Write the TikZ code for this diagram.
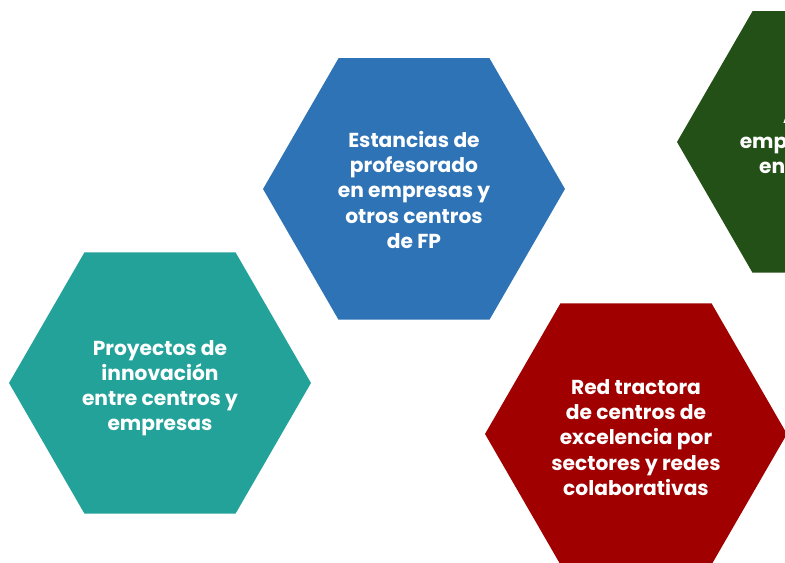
\documentclass[tikz,border=0pt]{standalone}
\usepackage{fontspec}
\setmainfont{Poppins}
\usetikzlibrary{shapes.geometric}
\definecolor{hexblue}{RGB}{46,115,181}
\definecolor{hexteal}{RGB}{35,162,154}
\definecolor{hexred}{RGB}{160,0,0}
\definecolor{hexgreen}{RGB}{34,80,22}

\begin{document}
\begin{tikzpicture}[x=0.02cm,y=-0.02cm,
    hexa/.style={regular polygon,regular polygon sides=6,minimum size=6.04cm,
      inner sep=0pt,fill=#1},
    txt/.style={text=white,align=center,
      font=\bfseries\fontsize{11.5}{14.3}\selectfont}]
  \useasboundingbox (0,0) rectangle (785,563);
  \clip (0,0) rectangle (785,563);
  \node[hexa=hexblue] (estancias) at (414,189) {};
  \node[hexa=hexteal] (proyectos) at (160,383) {};
  \node[hexa=hexred] (red) at (636,434) {};
  \node[hexa=hexgreen] (aulas) at (828,142) {};
  % textos
  \node[txt] (estancias txt) at ([yshift=-0.5pt]estancias)
    {Estancias de\\profesorado\\en empresas y\\otros centros\\de FP};
  \node[txt] (proyectos txt) at ([yshift=-3pt]proyectos)
    {Proyectos de\\innovación\\entre centros y\\empresas};
  \node[txt] (red txt) at ([yshift=-2pt]red)
    {Red tractora\\de centros de\\excelencia por\\sectores y redes\\colaborativas};
  \node[txt] (aulas txt) at ([yshift=0.5pt]aulas)
    {Aulas de\\emprendimiento\\en centros FP};
\end{tikzpicture}
\end{document}
